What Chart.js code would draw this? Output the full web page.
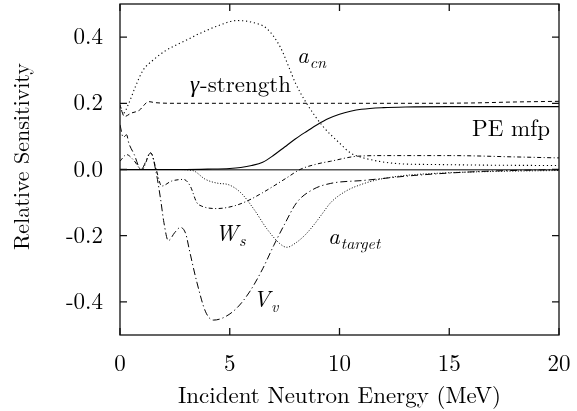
<!DOCTYPE html>
<html><head><meta charset="utf-8">
<script src="https://cdn.jsdelivr.net/npm/chart.js@4.4.1/dist/chart.umd.min.js"></script>
<style>html,body{margin:0;padding:0;background:#fff}#wrap{width:577px;height:411px}</style>
</head><body><div id="wrap"><canvas id="c" width="577" height="411"></canvas></div>
<script>
const xTicks=[0,5,10,15,20];
const yTicks=[-0.4,-0.2,0,0.2,0.4];
const xTitle='Incident Neutron Energy (MeV)';
const yTitle='Relative Sensitivity';

const peX=[0,3,4,5,5.5,6,6.5,7,7.5,8,8.5,9,9.5,10,10.5,11,12,13,15,20];
const peY=[0,0,0.001,0.003,0.006,0.012,0.022,0.043,0.068,0.093,0.115,0.136,0.154,0.167,0.176,0.182,0.187,0.189,0.19,0.19];

const gamX=[0,0.2,0.5,0.9,1.1,1.3,1.6,2.5,5,8,10,13,16,18,20];
const gamY=[0.195,0.16,0.17,0.18,0.195,0.205,0.202,0.2,0.2,0.2,0.2,0.2,0.201,0.204,0.206];

const acnX=[0,0.15,0.4,0.7,1.05,1.5,2.1,3.0,3.6,4.5,5.3,6.0,6.7,7.3,7.75,8.0,8.5,9.25,10,10.5,11.1,12.6,14.4,17,20];
const acnY=[0.19,0.17,0.2,0.25,0.3,0.33,0.36,0.39,0.41,0.435,0.45,0.445,0.425,0.37,0.30,0.26,0.2,0.13,0.08,0.05,0.035,0.018,0.015,0.013,0.012];

const wsX=[0,0.3,0.6,1.0,1.4,1.65,1.9,2.35,2.9,3.2,3.5,3.7,4.4,5.2,5.8,6.5,7.0,7.6,8.2,9.0,9.6,10.8,12,15,18,20];
const wsY=[0.025,0.045,0.03,0.0,0.05,0.0,-0.05,-0.035,-0.03,-0.05,-0.1,-0.11,-0.118,-0.11,-0.095,-0.07,-0.05,-0.025,0.0,0.017,0.025,0.04,0.042,0.042,0.038,0.035];

const vvX=[0,0.15,0.3,0.4,0.65,0.95,1.4,1.65,1.85,2.0,2.2,2.5,2.75,3.0,3.15,3.5,3.9,4.25,4.7,5.3,5.9,6.5,7.0,7.5,8.05,8.8,9.6,11.1,13.4,16.4,20];
const vvY=[0.135,0.097,0.105,0.08,0.045,0.0,0.05,-0.01,-0.09,-0.16,-0.215,-0.19,-0.175,-0.195,-0.24,-0.34,-0.43,-0.455,-0.448,-0.42,-0.37,-0.3,-0.23,-0.165,-0.1,-0.06,-0.042,-0.033,-0.018,-0.006,0.0];

const atX=[0,2.5,3.3,3.9,4.5,4.9,5.5,6.1,6.7,7.3,7.6,8.0,8.4,8.8,9.2,9.6,10.3,11,11.8,13,14.9,17,20];
const atY=[0,0,-0.003,-0.03,-0.042,-0.045,-0.07,-0.12,-0.18,-0.225,-0.235,-0.222,-0.2,-0.17,-0.135,-0.1,-0.065,-0.045,-0.03,-0.018,-0.01,-0.006,-0.003];

const notes=[
  {parts:[['γ','i'],['-strength','r']], x:3.19, y:0.235},
  {parts:[['a','i'],['cn','s']], x:8.06, y:0.323},
  {parts:[['PE mfp','r']], x:16.04, y:0.10},
  {parts:[['W','i'],['s','s']], x:4.33, y:-0.217},
  {parts:[['a','i'],['target','s']], x:9.48, y:-0.226},
  {parts:[['V','i'],['v','s']], x:6.06, y:-0.416}
];

const F='Latin Modern Roman';
const pts=(xs,ys)=>xs.map((v,i)=>({x:v,y:ys[i]}));
function ds(label,xs,ys,dash,w){
  return {label,data:pts(xs,ys),borderColor:'#000',borderWidth:w||1,borderDash:dash,pointRadius:0,
    cubicInterpolationMode:'monotone',fill:false};
}

const deco={
  id:'deco',
  afterDraw(chart){
    const {ctx,chartArea:a,scales:{x,y}}=chart;
    ctx.save();
    ctx.strokeStyle='#111';ctx.lineWidth=1.3;ctx.setLineDash([]);
    ctx.strokeRect(a.left,a.top,a.right-a.left,a.bottom-a.top);
    const L=7;
    ctx.beginPath();
    xTicks.forEach(v=>{const p=x.getPixelForValue(v);ctx.moveTo(p,a.bottom);ctx.lineTo(p,a.bottom-L);ctx.moveTo(p,a.top);ctx.lineTo(p,a.top+L);});
    yTicks.forEach(v=>{const p=y.getPixelForValue(v);ctx.moveTo(a.left,p);ctx.lineTo(a.left+L,p);ctx.moveTo(a.right,p);ctx.lineTo(a.right-L,p);});
    ctx.stroke();
    ctx.fillStyle='#000';ctx.textBaseline='alphabetic';ctx.textAlign='left';
    notes.forEach(n=>{
      let px=x.getPixelForValue(n.x);const py=y.getPixelForValue(n.y);
      n.parts.forEach(([t,s])=>{
        if(s==='i') ctx.font='italic 23px "'+F+'"';
        else if(s==='s') ctx.font='italic 16px "'+F+'"';
        else ctx.font='23px "'+F+'"';
        ctx.fillText(t,px,py+(s==='s'?5:0));
        px+=ctx.measureText(t).width+(s==='i'?1:0);
      });
    });
    // y axis title
    ctx.translate(22,(a.top+a.bottom)/2-13);
    ctx.rotate(-Math.PI/2);
    ctx.textAlign='center';ctx.textBaseline='middle';
    ctx.font='22px "'+F+'"';
    ctx.fillText(yTitle,0,0);
    ctx.restore();
  }
};

new Chart(document.getElementById('c'),{
  type:'line',
  data:{datasets:[
    ds('PE mfp',peX,peY,[],1.1),
    ds('γ-strength',gamX,gamY,[4,3],1),
    ds('a_cn',acnX,acnY,[1.2,2.8],1.1),
    ds('W_s',wsX,wsY,[4,2.5,1,2.5],1),
    ds('V_v',vvX,vvY,[7,3,1.2,3],1),
    ds('a_target',atX,atY,[1,1.8],1)
  ]},
  options:{
    responsive:false,animation:false,devicePixelRatio:1,
    layout:{padding:{left:0,right:18,top:4,bottom:0}},
    plugins:{legend:{display:false},tooltip:{enabled:false}},
    scales:{
      x:{type:'linear',min:0,max:20,
        afterBuildTicks:s=>{s.ticks=xTicks.map(v=>({value:v}));},
        afterFit:s=>{s.height=76;s.paddingLeft=0;s.paddingRight=0;},
        grid:{display:false},border:{display:false},
        ticks:{font:{family:F,size:23},color:'#000',padding:7,maxRotation:0,callback:v=>String(v)},
        title:{display:true,text:xTitle,font:{family:F,size:23},color:'#000',padding:{top:0,bottom:1}}
      },
      y:{type:'linear',min:-0.5,max:0.5,
        afterBuildTicks:s=>{s.ticks=yTicks.map(v=>({value:v}));},
        afterFit:s=>{s.width=120;s.paddingTop=0;s.paddingBottom=0;},
        grid:{drawTicks:false,lineWidth:1.5,color:c=>(c.tick&&Math.abs(c.tick.value)<1e-9)?'#555':'rgba(0,0,0,0)'},
        border:{display:false},
        ticks:{font:{family:F,size:23},color:'#000',padding:17,callback:v=>Number(v).toFixed(1)},
        title:{display:false}
      }
    }
  },
  plugins:[deco]
});
</script></body></html>
